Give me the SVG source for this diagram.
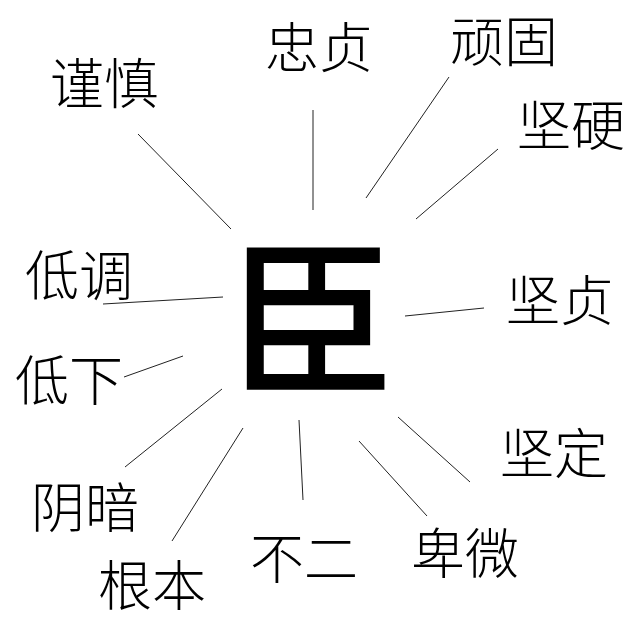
<svg xmlns="http://www.w3.org/2000/svg" width="640" height="640" viewBox="0 0 640 640">
<style>
.lbl{font-family:"Noto Sans CJK SC","Noto Sans CJK JP",sans-serif;font-size:54px;font-weight:300;fill:#000}
.ctr{font-family:"Noto Sans CJK SC","Noto Sans CJK JP",sans-serif;font-size:168px;font-weight:500;fill:#000}
.ln{stroke:#222;stroke-width:1;fill:none}
</style>
<rect width="640" height="640" fill="#fff"/>
<g id="connectors">
<line class="ln" x1="138" y1="134" x2="231" y2="229"/>
<line class="ln" x1="313" y1="110" x2="313" y2="210"/>
<line class="ln" x1="449" y1="77" x2="366" y2="198"/>
<line class="ln" x1="498" y1="149" x2="416" y2="219"/>
<line class="ln" x1="103" y1="304" x2="223" y2="297"/>
<line class="ln" x1="405" y1="316" x2="484" y2="308"/>
<line class="ln" x1="124" y1="377" x2="183" y2="356"/>
<line class="ln" x1="125" y1="467" x2="222" y2="389"/>
<line class="ln" x1="172" y1="541" x2="243" y2="428"/>
<line class="ln" x1="299" y1="420" x2="303" y2="500"/>
<line class="ln" x1="398" y1="417" x2="470" y2="482"/>
<line class="ln" x1="359" y1="441" x2="427" y2="516"/>
</g>
<g id="center"><text class="ctr" x="312" y="382" text-anchor="middle">臣</text></g>
<g id="n-jinshen"><text class="lbl" x="50" y="104">谨慎</text></g>
<g id="n-zhongzhen"><text class="lbl" x="265" y="68">忠贞</text></g>
<g id="n-wangu"><text class="lbl" x="450" y="62">顽固</text></g>
<g id="n-jianying"><text class="lbl" x="517" y="146">坚硬</text></g>
<g id="n-didiao"><text class="lbl" x="25" y="296">低调</text></g>
<g id="n-jianzhen"><text class="lbl" x="506" y="321">坚贞</text></g>
<g id="n-dixia"><text class="lbl" x="15" y="401">低下</text></g>
<g id="n-jianding"><text class="lbl" x="500" y="474">坚定</text></g>
<g id="n-yinan"><text class="lbl" x="31" y="528">阴暗</text></g>
<g id="n-genben"><text class="lbl" x="98" y="606">根本</text></g>
<g id="n-buer"><text class="lbl" x="250" y="579">不二</text></g>
<g id="n-beiwei"><text class="lbl" x="411" y="574">卑微</text></g>
</svg>
